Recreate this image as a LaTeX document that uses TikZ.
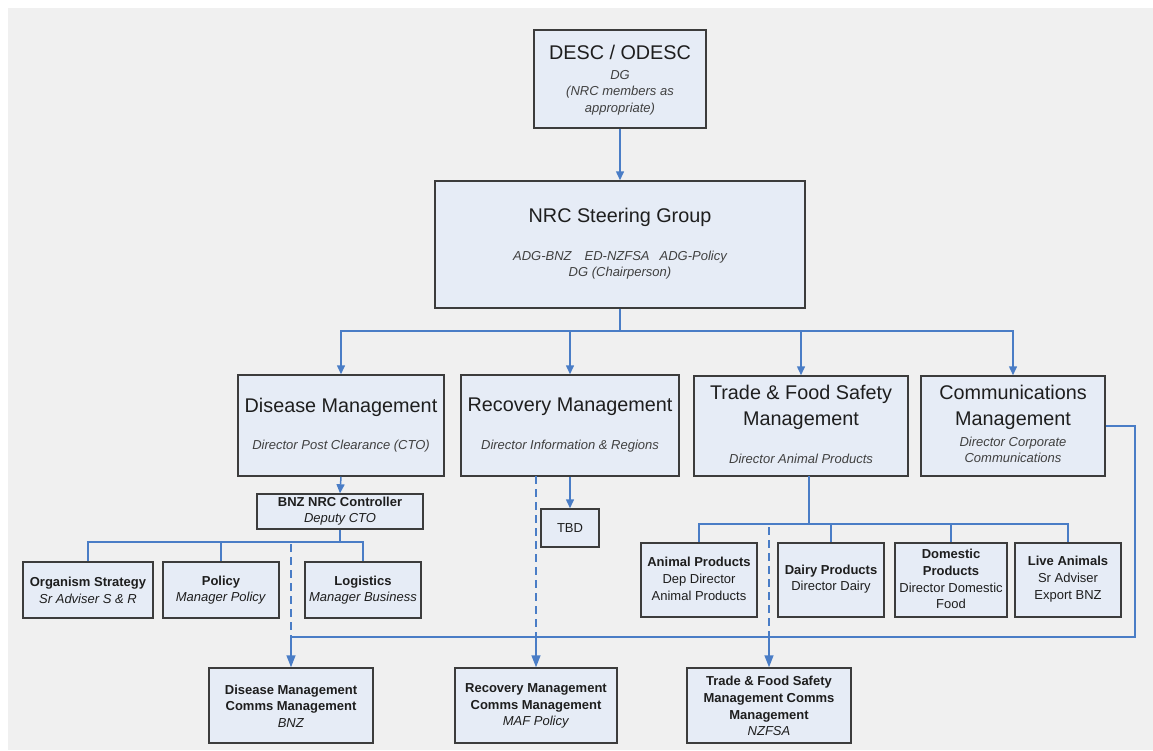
\documentclass[tikz,border=0pt]{standalone}
\usepackage{fontspec}
\setmainfont{Liberation Sans}
\usetikzlibrary{arrows.meta}
\definecolor{bg}{HTML}{F0F0F0}
\definecolor{boxfill}{HTML}{E6ECF6}
\definecolor{boxline}{HTML}{3C3C3C}
\definecolor{conn}{HTML}{4A7DC6}
\definecolor{txt}{HTML}{1E1E1E}
\newcommand\mybox[5]{\node[box, minimum width={#4-#2}, minimum height={#5-#3}] (#1) at ({(#2+#4)/2},{(#3+#5)/2}) {};}
\begin{document}
\begin{tikzpicture}[x=1pt,y=-1pt,
  box/.style={draw=boxline, line width=1.5pt, fill=boxfill, inner sep=0pt},
  link/.style={draw=conn, line width=1.5pt},
  arr/.style={link, -{Triangle[length=9pt,width=8pt]}},
  arrbig/.style={link, -{Triangle[length=12pt,width=9pt]}},
  dline/.style={link, dash pattern=on 8pt off 5pt},
  big/.style={font=\fontsize{19.8}{26}\selectfont, text=txt, align=center, inner sep=0pt},
  sub/.style={font=\fontsize{13}{16.5}\selectfont\itshape, text=txt!85, align=center, inner sep=0pt},
  sm/.style={font=\fontsize{13}{16.7}\selectfont, text=txt, align=center, inner sep=0pt},
]
\fill[white] (0,0) rectangle (1153,750);
\useasboundingbox (0,0) rectangle (1153,750);
\fill[bg] (8,8) rectangle (1153,750);

% boxes
\mybox{desc}{534}{30}{706}{128}
\mybox{nrc}{435}{181}{805}{308}
\mybox{dis}{238}{375}{444}{476}
\mybox{rec}{461}{375}{679}{476}
\mybox{trade}{694}{376}{908}{476}
\mybox{com}{921}{376}{1105}{476}
\mybox{bnz}{257}{494}{423}{529}
\mybox{tbd}{541}{509}{599}{547}
\mybox{org}{23}{562}{153}{618}
\mybox{pol}{163}{562}{279}{618}
\mybox{log}{305}{562}{421}{618}
\mybox{ani}{641}{543}{757}{617}
\mybox{dai}{778}{543}{884}{617}
\mybox{dom}{895}{543}{1007}{617}
\mybox{liv}{1015}{543}{1121}{617}
\mybox{dcom}{209}{668}{373}{743}
\mybox{rcom}{455}{668}{617}{743}
\mybox{tcom}{687}{668}{851}{743}

% texts
\node[big] (desct) at (620,52) {DESC / ODESC};
\node[sub] (descs) at (620,92.5) {DG\\(NRC members as\\appropriate)};
\node[big] (nrct) at (620,217) {NRC Steering Group};
\node[sub] (nrcs) at (620,265) {ADG-BNZ\hspace{13pt}ED-NZFSA\hspace{10pt}ADG-Policy\\DG (Chairperson)};
\node[big] (dist) at (341,407) {Disease Management};
\node[sub] (diss) at (341,446) {Director Post Clearance (CTO)};
\node[big] (rect) at (570,407) {Recovery Management};
\node[sub] (recs) at (570,446) {Director Information \& Regions};
\node[big] (tradet) at (801,407) {Trade \& Food Safety\\Management};
\node[sub] (trades) at (801,459) {Director Animal Products};
\node[big] (comt) at (1013,407) {Communications\\Management};
\node[sub] (coms) at (1013,450) {Director Corporate\\Communications};
\node[sm] (bnzt) at (340,511) {\textbf{BNZ NRC Controller}\\\textit{Deputy CTO}};
\node[sm] (tbdt) at (570,528) {TBD};
\node[sm] (orgt) at (88,590) {\textbf{Organism Strategy}\\\textit{Sr Adviser S \& R}};
\node[sm] (polt) at (221,590) {\textbf{Policy}\\\textit{Manager Policy}};
\node[sm] (logt) at (363,590) {\textbf{Logistics}\\\textit{Manager Business}};
\node[sm] (anit) at (699,579) {\textbf{Animal Products}\\Dep Director\\Animal Products};
\node[sm] (dait) at (831,579) {\textbf{Dairy Products}\\Director Dairy};
\node[sm] (domt) at (951,579) {\textbf{Domestic}\\\textbf{Products}\\Director Domestic\\Food};
\node[sm] (livt) at (1068,579) {\textbf{Live Animals}\\Sr Adviser\\Export BNZ};
\node[sm] (dcomt) at (291,706) {\textbf{Disease Management}\\\textbf{Comms Management}\\\textit{BNZ}};
\node[sm] (rcomt) at (536,706) {\textbf{Recovery Management}\\\textbf{Comms Management}\\\textit{MAF Policy}};
\node[sm] (tcomt) at (769,706) {\textbf{Trade \& Food Safety}\\\textbf{Management Comms}\\\textbf{Management}\\\textit{NZFSA}};

% connectors
\draw[arr] (desc.south) -- (nrc.north);
\coordinate (b1) at (620,331);
\draw[link] (nrc.south) -- (b1);
\draw[arr] (b1) -| (dis.north);
\draw[arr] (b1) -| (rec.north);
\draw[arr] (b1) -| (trade.north);
\draw[arr] (b1) -| (com.north);

\draw[arr] (dis.south) -- (bnz.north);
\coordinate (b2) at (340,542);
\draw[link] (bnz.south) -- (b2);
\draw[link] (b2) -| (org.north);
\draw[link] (b2) -| (pol.north);
\draw[link] (b2) -| (log.north);

\draw[arr] (rec.south) -- (tbd.north);

\coordinate (t0) at (809,476);
\coordinate (b3) at (809,524);
\draw[link, line width=1.8pt] (t0) -- (b3);
\draw[link] (b3) -| (ani.north);
\draw[link] (b3) -| (dai.north);
\draw[link] (b3) -| (dom.north);
\draw[link] (b3) -| (liv.north);

% comms bus
\coordinate (ce) at (1135,426);
\coordinate (b4) at (291,637);
\coordinate (b4r) at (536,637);
\coordinate (b4t) at (769,637);
\draw[link] (com.east) -- (ce) |- (b4);
\draw[arrbig] (b4) -- (dcom.north);
\draw[arrbig] (b4r) -- (rcom.north);
\draw[arrbig] (b4t) -- (tcom.north);

% dashed links
\coordinate (d1) at (291,544);
\draw[dline] (d1) -- (b4);
\coordinate (d2) at (536,476);
\draw[dline] (d2) -- (b4r);
\coordinate (d3) at (769,527);
\draw[dline] (d3) -- (b4t);
\end{tikzpicture}
\end{document}
